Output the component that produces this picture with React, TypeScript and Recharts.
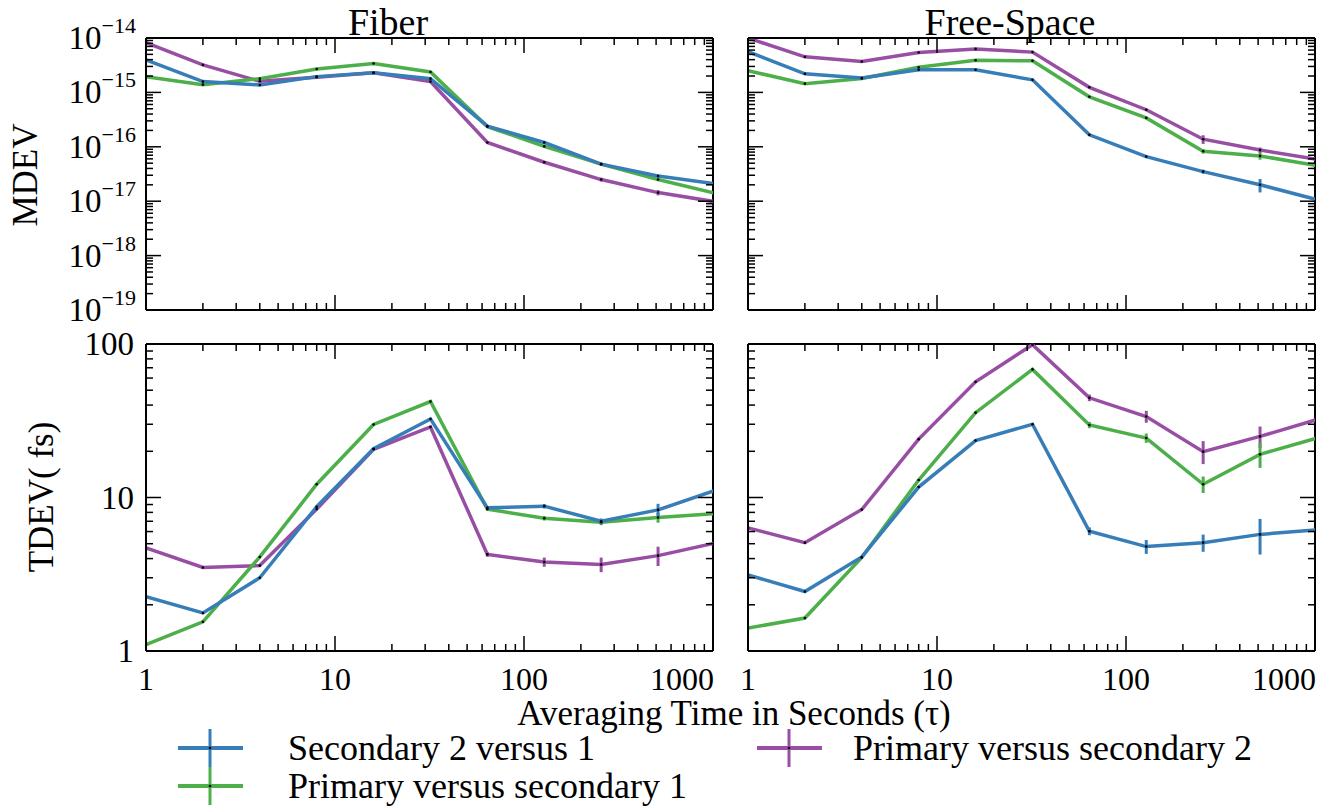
import React from 'react';
import { LineChart, Line, XAxis, YAxis, ErrorBar, ReferenceLine } from 'recharts';

// averaging times (s)
const TAU = [1, 2, 4, 8, 16, 32, 64, 128, 256, 512, 1024];

const SERIES_NAMES = ['Secondary 2 versus 1', 'Primary versus secondary 1', 'Primary versus secondary 2'];
const COLORS = ['#377eb8', '#4daf4a', '#984ea3'];

// Fiber, MDEV
const fiberMdevS21 = [3.95e-15, 1.58e-15, 1.37e-15, 1.95e-15, 2.3e-15, 1.79e-15, 2.4e-16, 1.2e-16, 4.8e-17, 2.9e-17, 2.1e-17];
const fiberMdevP1 = [1.95e-15, 1.39e-15, 1.79e-15, 2.7e-15, 3.4e-15, 2.37e-15, 2.35e-16, 1.02e-16, 4.8e-17, 2.5e-17, 1.4e-17];
const fiberMdevP2 = [8.2e-15, 3.2e-15, 1.6e-15, 1.9e-15, 2.3e-15, 1.58e-15, 1.2e-16, 5.2e-17, 2.5e-17, 1.44e-17, 9.8e-18];
const fiberMdevS21Err = [0, 0, 0, 0, 0, 0, 4e-18, 6e-18, 2e-18, 2e-18, 0];
const fiberMdevP1Err = [0, 0, 0, 0, 0, 0, 4e-18, 4e-18, 2e-18, 1.5e-18, 0];
const fiberMdevP2Err = [0, 0, 0, 0, 0, 0, 3e-18, 2e-18, 2e-18, 1.6e-18, 0];

// Free-space, MDEV
const fsMdevS21 = [5.6e-15, 2.2e-15, 1.84e-15, 2.6e-15, 2.6e-15, 1.7e-15, 1.66e-16, 6.6e-17, 3.5e-17, 2.0e-17, 1.07e-17];
const fsMdevP1 = [2.5e-15, 1.45e-15, 1.8e-15, 2.9e-15, 3.9e-15, 3.8e-15, 8.3e-16, 3.4e-16, 8.3e-17, 6.8e-17, 4.5e-17];
const fsMdevP2 = [1.0e-14, 4.5e-15, 3.7e-15, 5.4e-15, 6.3e-15, 5.5e-15, 1.24e-15, 4.8e-16, 1.38e-16, 8.7e-17, 5.9e-17];
const fsMdevS21Err = [0, 0, 0, 0, 0, 0, 5e-18, 4e-18, 3e-18, 5.5e-18, 0];
const fsMdevP1Err = [0, 0, 0, 0, 0, 0, 2e-17, 1.5e-17, 8e-18, 1e-17, 0];
const fsMdevP2Err = [0, 0, 0, 0, 0, 0, 3e-17, 2e-17, 2.5e-17, 1e-17, 0];

// Fiber, TDEV (fs)
const fiberTdevS21 = [2.26, 1.77, 3.0, 8.7, 20.8, 32.5, 8.56, 8.78, 7.0, 8.3, 11.1];
const fiberTdevP1 = [1.1, 1.55, 4.1, 12.2, 29.9, 42.2, 8.4, 7.33, 6.9, 7.4, 7.85];
const fiberTdevP2 = [4.69, 3.5, 3.6, 8.4, 20.6, 28.8, 4.26, 3.8, 3.66, 4.18, 5.05];
const fiberTdevS21Err = [0, 0, 0, 0, 0, 0.3, 0.2, 0.3, 0.3, 0.8, 0];
const fiberTdevP1Err = [0, 0, 0, 0, 0, 0.5, 0.2, 0.25, 0.3, 0.55, 0];
const fiberTdevP2Err = [0, 0, 0, 0, 0, 0.5, 0.15, 0.26, 0.4, 0.6, 0];

// Free-space, TDEV (fs)
const fsTdevS21 = [3.13, 2.44, 4.1, 11.7, 23.5, 30.0, 6.03, 4.79, 5.08, 5.75, 6.15];
const fsTdevP1 = [1.41, 1.64, 4.07, 13.0, 35.7, 68.3, 29.7, 24.4, 12.2, 19.1, 24.4];
const fsTdevP2 = [6.34, 5.08, 8.35, 24.0, 56.7, 99, 44.6, 33.7, 19.9, 25.0, 32.2];
const fsTdevS21Err = [0, 0, 0, 0, 0, 0.5, 0.35, 0.5, 0.65, 1.5, 0];
const fsTdevP1Err = [0, 0, 0, 0, 0, 1.5, 1.4, 1.7, 1.5, 3.5, 0];
const fsTdevP2Err = [0, 0, 0, 0, 0, 1.5, 2.2, 3.0, 3.4, 4.0, 0];

// axis ticks
const X_MAJORS = [1, 10, 100, 1000];
const MDEV_MAJORS = [1e-19, 1e-18, 1e-17, 1e-16, 1e-15, 1e-14];
const TDEV_MAJORS = [1, 10, 100];
const MINOR_STEPS = [2, 3, 4, 5, 6, 7, 8, 9];

const withMinors = (majors: number[]) => {
  const out: number[] = [];
  majors.forEach((m, i) => {
    out.push(m);
    if (i < majors.length - 1) MINOR_STEPS.forEach((k) => out.push(k * m));
  });
  return out;
};

const FONT = '"Liberation Serif", "DejaVu Serif", serif';
const X_DOMAIN: [number, number] = [1, 1000];
const PLOT_W = 567;
const PAD_L = 140;
const PAD_T = 45;
const PAD_R = 20;
const PAD_B = 60;

const buildRows = (s21: number[], p1: number[], p2: number[], e21: number[], e1: number[], e2: number[]) =>
  TAU.map((t, i) => ({ tau: t, s21: s21[i], p1: p1[i], p2: p2[i], s21e: e21[i], p1e: e1[i], p2e: e2[i] }));

const isMajor = (v: number, majors: number[]) => majors.some((m) => Math.abs(v - m) / m < 1e-6);

interface PanelProps {
  left: number;
  top: number;
  height: number;
  rows: any[];
  yDomain: [number, number];
  yMajors: number[];
  yLabels: boolean;
  xLabels: boolean;
  sci: boolean;
}

const Panel = ({ left, top, height, rows, yDomain, yMajors, yLabels, xLabels, sci }: PanelProps) => {
  const plotTop = PAD_T;
  const plotBottom = PAD_T + height;
  const plotLeft = PAD_L;
  const plotRight = PAD_L + PLOT_W;

  const XTick = (props: any) => {
    const { x, payload } = props;
    const v = payload.value;
    const major = isMajor(v, X_MAJORS);
    const len = major ? 15 : 7;
    const last = v === 1000;
    return (
      <g>
        <line x1={x} x2={x} y1={plotBottom} y2={plotBottom - len} stroke="#000" strokeWidth={1.5} />
        <line x1={x} x2={x} y1={plotTop} y2={plotTop + len} stroke="#000" strokeWidth={1.5} />
        {xLabels && major && (
          <text x={last ? x + 1 : x} y={plotBottom + 39} textAnchor={last ? 'end' : 'middle'} fontSize={32} fontFamily={FONT} fill="#000">
            {v}
          </text>
        )}
      </g>
    );
  };

  const YTick = (props: any) => {
    const { y, payload } = props;
    const v = payload.value;
    const major = isMajor(v, yMajors);
    const len = major ? 15 : 7;
    let label: React.ReactNode = null;
    if (yLabels && major) {
      if (sci) {
        const exp = Math.round(Math.log10(v));
        label = (
          <text x={plotLeft - 10} y={y + 11} textAnchor="end" fontFamily={FONT} fill="#000">
            <tspan fontSize={33}>10</tspan>
            <tspan fontSize={22} dy={-16}>{'\u2212' + Math.abs(exp)}</tspan>
          </text>
        );
      } else {
        label = (
          <text x={plotLeft - 12} y={y + 11} textAnchor="end" fontSize={33} fontFamily={FONT} fill="#000">
            {v}
          </text>
        );
      }
    }
    return (
      <g>
        <line x1={plotLeft} x2={plotLeft + len} y1={y} y2={y} stroke="#000" strokeWidth={1.5} />
        <line x1={plotRight} x2={plotRight - len} y1={y} y2={y} stroke="#000" strokeWidth={1.5} />
        {label}
      </g>
    );
  };

  const order = [
    { key: 'p2', color: COLORS[2] },
    { key: 'p1', color: COLORS[1] },
    { key: 's21', color: COLORS[0] },
  ];

  return (
    <div style={{ position: 'absolute', left: left - PAD_L, top: top - PAD_T }}>
      <LineChart
        width={PAD_L + PLOT_W + PAD_R}
        height={PAD_T + height + PAD_B}
        data={rows}
        margin={{ top: PAD_T, right: PAD_R, bottom: 0, left: 0 }}
      >
        <XAxis
          dataKey="tau"
          type="number"
          scale="log"
          domain={X_DOMAIN}
          allowDataOverflow
          ticks={withMinors(X_MAJORS)}
          interval={0}
          height={PAD_B}
          tickSize={0}
          tickMargin={0}
          tickLine={false}
          axisLine={{ stroke: '#000', strokeWidth: 2 }}
          tick={<XTick />}
        />
        <YAxis
          type="number"
          scale="log"
          domain={yDomain}
          allowDataOverflow
          ticks={withMinors(yMajors)}
          interval={0}
          width={PAD_L}
          tickSize={0}
          tickMargin={0}
          tickLine={false}
          axisLine={{ stroke: '#000', strokeWidth: 2 }}
          tick={<YTick />}
        />
        <ReferenceLine y={yDomain[1]} stroke="#000" strokeWidth={2} />
        <ReferenceLine x={X_DOMAIN[1]} stroke="#000" strokeWidth={2} />
        {order.map((s) => (
          <Line
            key={s.key}
            type="linear"
            dataKey={s.key}
            stroke={s.color}
            strokeWidth={3.5}
            dot={{ r: 1.3, fill: '#000', stroke: 'none' }}
            activeDot={false}
            isAnimationActive={false}
          >
            <ErrorBar dataKey={s.key + 'e'} width={0} strokeWidth={3} stroke={s.color} direction="y" isAnimationActive={false} />
          </Line>
        ))}
      </LineChart>
    </div>
  );
};

const LegendItem = ({ x, textX, y, color, label }: { x: number; textX: number; y: number; color: string; label: string }) => (
  <g>
    <line x1={x} x2={x + 65} y1={y} y2={y} stroke={color} strokeWidth={4} />
    <line x1={x + 32} x2={x + 32} y1={y - 19} y2={y + 19} stroke={color} strokeWidth={3} />
    <circle cx={x + 32} cy={y} r={1.3} fill="#000" />
    <text x={textX} y={y + 12} fontSize={36} fontFamily={FONT} fill="#000">
      {label}
    </text>
  </g>
);

export default function App() {
  const TOP_H = 272;
  const BOT_H = 307;
  return (
    <div style={{ position: 'absolute', left: 0, top: 0, width: 1343, height: 808, background: '#fff', overflow: 'hidden' }}>
      <Panel
        left={146}
        top={38}
        height={TOP_H}
        rows={buildRows(fiberMdevS21, fiberMdevP1, fiberMdevP2, fiberMdevS21Err, fiberMdevP1Err, fiberMdevP2Err)}
        yDomain={[1e-19, 1e-14]}
        yMajors={MDEV_MAJORS}
        yLabels
        xLabels={false}
        sci
      />
      <Panel
        left={748}
        top={38}
        height={TOP_H}
        rows={buildRows(fsMdevS21, fsMdevP1, fsMdevP2, fsMdevS21Err, fsMdevP1Err, fsMdevP2Err)}
        yDomain={[1e-19, 1e-14]}
        yMajors={MDEV_MAJORS}
        yLabels={false}
        xLabels={false}
        sci
      />
      <Panel
        left={146}
        top={344}
        height={BOT_H}
        rows={buildRows(fiberTdevS21, fiberTdevP1, fiberTdevP2, fiberTdevS21Err, fiberTdevP1Err, fiberTdevP2Err)}
        yDomain={[1, 100]}
        yMajors={TDEV_MAJORS}
        yLabels
        xLabels
        sci={false}
      />
      <Panel
        left={748}
        top={344}
        height={BOT_H}
        rows={buildRows(fsTdevS21, fsTdevP1, fsTdevP2, fsTdevS21Err, fsTdevP1Err, fsTdevP2Err)}
        yDomain={[1, 100]}
        yMajors={TDEV_MAJORS}
        yLabels={false}
        xLabels
        sci={false}
      />
      <svg width={1343} height={808} style={{ position: 'absolute', left: 0, top: 0, pointerEvents: 'none' }}>
        <text x={388} y={35} textAnchor="middle" fontSize={38} fontFamily={FONT} fill="#000">Fiber</text>
        <text x={1010} y={35} textAnchor="middle" fontSize={38} fontFamily={FONT} fill="#000">Free-Space</text>
        <text transform="translate(37,175) rotate(-90)" textAnchor="middle" fontSize={35} fontFamily={FONT} fill="#000">MDEV</text>
        <text transform="translate(53,497) rotate(-90)" textAnchor="middle" fontSize={35} fontFamily={FONT} fill="#000">TDEV( fs)</text>
        <text x={734} y={725} textAnchor="middle" fontSize={35} fontFamily={FONT} fill="#000">Averaging Time in Seconds (τ)</text>
        <LegendItem x={178} textX={288} y={748} color={COLORS[0]} label={SERIES_NAMES[0]} />
        <LegendItem x={178} textX={288} y={786} color={COLORS[1]} label={SERIES_NAMES[1]} />
        <LegendItem x={757} textX={853} y={748} color={COLORS[2]} label={SERIES_NAMES[2]} />
      </svg>
    </div>
  );
}
